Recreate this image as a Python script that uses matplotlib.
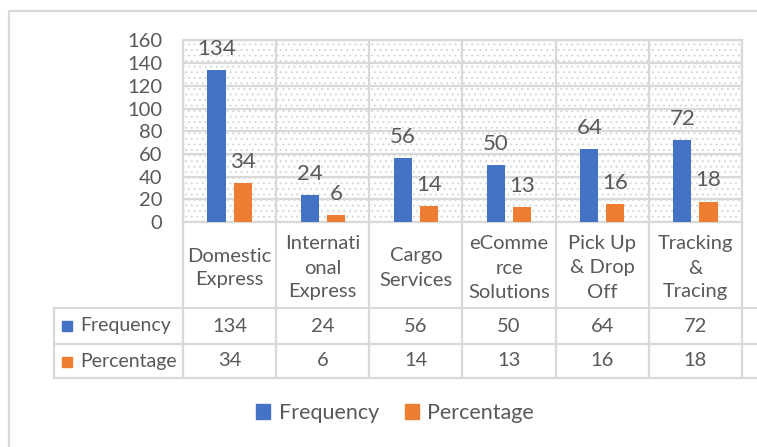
import matplotlib
matplotlib.use('Agg')
import matplotlib.pyplot as plt
import numpy as np
from matplotlib.patches import Rectangle, Patch
from matplotlib.lines import Line2D
from matplotlib.transforms import blended_transform_factory

# services and survey counts
categories = ['Domestic\nExpress', 'Internati\nonal\nExpress', 'Cargo\nServices',
              'eComme\nrce\nSolutions', 'Pick Up\n& Drop\nOff', 'Tracking\n&\nTracing']
frequency = [134, 24, 56, 50, 64, 72]
percentage = [34, 6, 14, 13, 16, 18]
series_names = ['Frequency', 'Percentage']
y_ticks = [0, 20, 40, 60, 80, 100, 120, 140, 160]

BLUE = '#4472C4'
ORANGE = '#ED7D31'
TEXT = '#595959'
GRID = '#D9D9D9'

plt.rcParams['font.family'] = ['Lato', 'DejaVu Sans']
plt.rcParams['hatch.linewidth'] = 0.7

W, H = 757, 447


def fx(px):
    return px / W


def fy(px):
    return 1 - px / H


fig = plt.figure(figsize=(W / 100, H / 100), dpi=100)
ax = fig.add_axes([fx(183), fy(222), fx(742 - 183), (222 - 40.5) / H])

# patterned plot area
ax.add_patch(Rectangle((0, 0), 1, 1, transform=ax.transAxes, facecolor='white',
                       edgecolor='#d6d6d6', hatch='...', lw=0, zorder=0))

x = np.arange(len(categories))
b1 = ax.bar(x - 0.14, frequency, 0.195, color=BLUE, zorder=3)
b2 = ax.bar(x + 0.14, percentage, 0.195, color=ORANGE, zorder=3)
for bars in (b1, b2):
    ax.bar_label(bars, padding=8, fontsize=16, color=TEXT)

ax.set_xlim(-0.5, len(categories) - 0.5)
ax.set_ylim(0, 160)
ax.set_yticks(y_ticks)
ax.set_xticks([])
ax.tick_params(axis='y', length=0, pad=15, labelsize=14.5, labelcolor=TEXT)
ax.yaxis.grid(True, color=GRID, lw=1.6)
ax.set_axisbelow(True)
for b in np.arange(-0.5, len(categories), 1.0):
    ax.axvline(b, color=GRID, lw=1.6, zorder=1)
for s in ax.spines.values():
    s.set_color(GRID)
    s.set_linewidth(1.6)

# data table under the axis
trans = blended_transform_factory(ax.transData, fig.transFigure)
px_per_cat = (742 - 183) / len(categories)
left_edge = (54 - 183) / px_per_cat - 0.5
right_edge = (W + 5 - 183) / px_per_cat - 0.5

for yy in (308, 344, 378):
    ax.plot([left_edge, right_edge], [fy(yy), fy(yy)], transform=trans,
            color=GRID, lw=1.6, clip_on=False)
ax.plot([left_edge, left_edge], [fy(308), fy(378)], transform=trans,
        color=GRID, lw=1.6, clip_on=False)
for b in np.arange(-0.5, len(categories), 1.0):
    ax.plot([b, b], [fy(222), fy(378)], transform=trans,
            color=GRID, lw=1.6, clip_on=False)

for i, cat in enumerate(categories):
    ax.text(i, fy(268), cat, transform=trans, ha='center', va='center',
            fontsize=14.5, color=TEXT, linespacing=1.5)
    ax.text(i, fy(326), str(frequency[i]), transform=trans, ha='center',
            va='center', fontsize=14.5, color=TEXT)
    ax.text(i, fy(361), str(percentage[i]), transform=trans, ha='center',
            va='center', fontsize=14.5, color=TEXT)

for name, color, yc in zip(series_names, (BLUE, ORANGE), (326, 362)):
    fig.add_artist(Rectangle((fx(62), fy(yc + 5)), fx(10), 10 / H,
                             transform=fig.transFigure, color=color))
    fig.text(fx(80), fy(yc), name, ha='left', va='center', fontsize=14,
             color=TEXT)

# chart frame
fig.add_artist(Line2D([fx(9), fx(9), 1.01], [-0.01, fy(11), fy(11)],
                      transform=fig.transFigure, color=GRID, lw=1.6))

handles = [Patch(color=BLUE), Patch(color=ORANGE)]
fig.legend(handles, series_names, loc='center', bbox_to_anchor=(fx(395), fy(413)),
           ncol=2, frameon=False, fontsize=15.5, labelcolor=TEXT,
           handlelength=0.65, handleheight=0.65, handletextpad=0.4,
           columnspacing=1.2)

fig.savefig('out.png', dpi=100)
